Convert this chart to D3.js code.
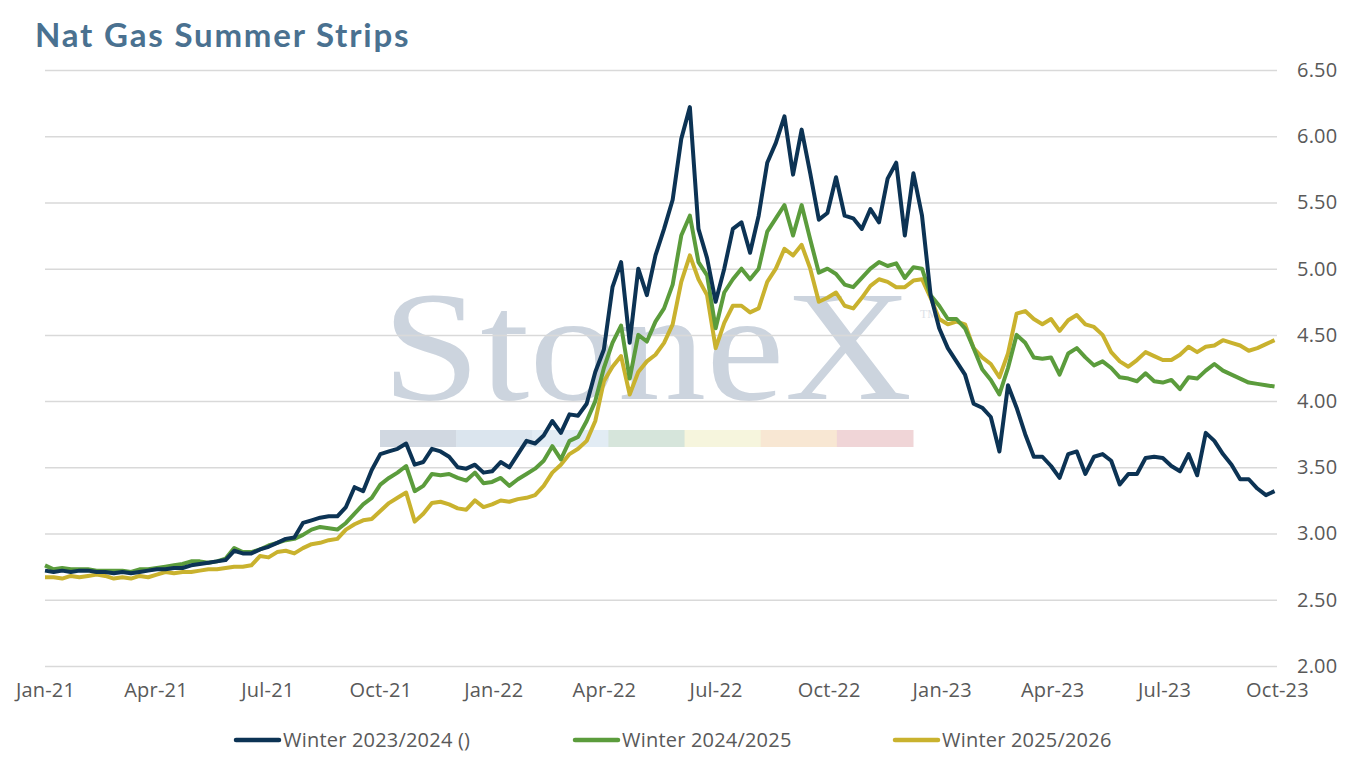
<!DOCTYPE html>
<html>
<head>
<meta charset="utf-8">
<script src="https://cdn.jsdelivr.net/npm/d3@7"></script>
<style>
  body { margin: 0; background: #fff; }
  text { font-family: "Open Sans", Lato, sans-serif; }
</style>
</head>
<body>
<svg id="chart" width="1356" height="759"></svg>
<script>
// weekly closes, first week starts 1 Jan 2021
const startDate = new Date(2021, 0, 1);

const winter2324 = [
  2.72, 2.71, 2.72, 2.71, 2.72, 2.72, 2.71, 2.71, 2.70, 2.71, 2.70, 2.71, 2.72, 2.73,
  2.73, 2.74, 2.74, 2.76, 2.77, 2.78, 2.79, 2.80, 2.87, 2.85, 2.85, 2.88, 2.90, 2.93,
  2.96, 2.97, 3.08, 3.10, 3.12, 3.13, 3.13, 3.20, 3.35, 3.32, 3.48, 3.60, 3.62, 3.64,
  3.68, 3.52, 3.54, 3.64, 3.62, 3.58, 3.50, 3.49, 3.52, 3.46, 3.47, 3.54, 3.50, 3.60,
  3.70, 3.68, 3.74, 3.85, 3.76, 3.90, 3.89, 3.98, 4.22, 4.39, 4.86, 5.05, 4.44, 5.00,
  4.80, 5.10, 5.30, 5.52, 5.98, 6.22, 5.30, 5.08, 4.75, 5.00, 5.30, 5.35, 5.12, 5.40,
  5.80, 5.95, 6.15, 5.71, 6.05, 5.72, 5.37, 5.42, 5.69, 5.40, 5.38, 5.30, 5.45, 5.35,
  5.68, 5.80, 5.25, 5.72, 5.40, 4.80, 4.55, 4.40, 4.30, 4.20, 3.98, 3.95, 3.88, 3.62,
  4.12, 3.95, 3.75, 3.58, 3.58, 3.51, 3.42, 3.60, 3.62, 3.45, 3.58, 3.60, 3.55, 3.37,
  3.45, 3.45, 3.57, 3.58, 3.57, 3.51, 3.47, 3.60, 3.44, 3.76, 3.70, 3.60, 3.52, 3.41,
  3.41, 3.34, 3.29, 3.32
];

const winter2425 = [
  2.76, 2.73, 2.74, 2.73, 2.73, 2.73, 2.72, 2.72, 2.72, 2.72, 2.71, 2.73, 2.73, 2.74,
  2.75, 2.76, 2.77, 2.79, 2.79, 2.78, 2.79, 2.81, 2.89, 2.86, 2.86, 2.88, 2.91, 2.93,
  2.95, 2.96, 2.99, 3.03, 3.05, 3.04, 3.03, 3.08, 3.15, 3.22, 3.27, 3.37, 3.42, 3.46,
  3.51, 3.32, 3.36, 3.45, 3.44, 3.45, 3.42, 3.40, 3.46, 3.38, 3.39, 3.42, 3.36, 3.41,
  3.45, 3.49, 3.55, 3.66, 3.56, 3.70, 3.73, 3.85, 4.00, 4.25, 4.44, 4.57, 4.17, 4.50,
  4.45, 4.60, 4.70, 4.88, 5.25, 5.40, 5.05, 4.95, 4.55, 4.82, 4.92, 5.00, 4.92, 5.00,
  5.28, 5.38, 5.48, 5.25, 5.48, 5.22, 4.97, 5.00, 4.96, 4.88, 4.86, 4.93, 5.00, 5.05,
  5.02, 5.04, 4.93, 5.01, 5.00, 4.80, 4.72, 4.62, 4.62, 4.55, 4.40, 4.24, 4.16, 4.05,
  4.25, 4.50, 4.44, 4.33, 4.32, 4.33, 4.20, 4.36, 4.40, 4.33, 4.27, 4.30, 4.25, 4.18,
  4.17, 4.15, 4.21, 4.15, 4.14, 4.16, 4.09, 4.18, 4.17, 4.23, 4.28, 4.23, 4.20, 4.17,
  4.14, 4.13, 4.12, 4.11
];

const winter2526 = [
  2.67, 2.67, 2.66, 2.68, 2.67, 2.68, 2.69, 2.68, 2.66, 2.67, 2.66, 2.68, 2.67, 2.69,
  2.71, 2.70, 2.71, 2.71, 2.72, 2.73, 2.73, 2.74, 2.75, 2.75, 2.76, 2.83, 2.82, 2.86,
  2.87, 2.85, 2.89, 2.92, 2.93, 2.95, 2.96, 3.03, 3.07, 3.10, 3.11, 3.17, 3.23, 3.27,
  3.31, 3.09, 3.15, 3.23, 3.24, 3.22, 3.19, 3.18, 3.25, 3.20, 3.22, 3.25, 3.24, 3.26,
  3.27, 3.29, 3.36, 3.46, 3.52, 3.60, 3.64, 3.70, 3.85, 4.15, 4.26, 4.34, 4.05, 4.22,
  4.30, 4.35, 4.44, 4.58, 4.90, 5.10, 4.92, 4.80, 4.40, 4.59, 4.72, 4.72, 4.67, 4.70,
  4.90, 5.00, 5.15, 5.10, 5.18, 5.00, 4.75, 4.78, 4.82, 4.72, 4.70, 4.78, 4.87, 4.92,
  4.90, 4.86, 4.86, 4.91, 4.92, 4.78, 4.62, 4.58, 4.60, 4.58, 4.40, 4.33, 4.28, 4.18,
  4.36, 4.66, 4.68, 4.62, 4.58, 4.62, 4.53, 4.61, 4.65, 4.58, 4.56, 4.50, 4.37, 4.30,
  4.26, 4.31, 4.37, 4.34, 4.31, 4.31, 4.35, 4.41, 4.37, 4.41, 4.42, 4.46, 4.44, 4.42,
  4.38, 4.40, 4.43, 4.46
];

const seriesNames = ['Winter 2023/2024 ()', 'Winter 2024/2025', 'Winter 2025/2026'];
const seriesColors = ['#0c3354', '#5b9c3c', '#c9b22e'];
const yTicks = [2.0, 2.5, 3.0, 3.5, 4.0, 4.5, 5.0, 5.5, 6.0, 6.5];
const xTickLabels = ['Jan-21', 'Apr-21', 'Jul-21', 'Oct-21', 'Jan-22', 'Apr-22',
  'Jul-22', 'Oct-22', 'Jan-23', 'Apr-23', 'Jul-23', 'Oct-23'];
const xTickDates = [
  new Date(2021, 0, 1), new Date(2021, 3, 1), new Date(2021, 6, 1), new Date(2021, 9, 1),
  new Date(2022, 0, 1), new Date(2022, 3, 1), new Date(2022, 6, 1), new Date(2022, 9, 1),
  new Date(2023, 0, 1), new Date(2023, 3, 1), new Date(2023, 6, 1), new Date(2023, 9, 1)
];
const stripColors = ['#d1d8e1', '#dbe5ee', '#e2ecf4', '#d6e5db', '#f6f5dd', '#f8e7d3', '#f0d5d7'];

const svg = d3.select('#chart');

const x = d3.scaleTime()
  .domain([xTickDates[0], xTickDates[xTickDates.length - 1]])
  .range([45, 1277]);
const y = d3.scaleLinear().domain([2, 6.5]).range([666, 70]);

const dates = winter2324.map((d, i) => d3.timeDay.offset(startDate, i * 7));

const labelFont = g => g
  .style('font-family', '"Open Sans", sans-serif')
  .style('font-size', '20px')
  .style('letter-spacing', '0.2px')
  .style('fill', '#595959');

// title
svg.append('text')
  .attr('x', 35).attr('y', 47)
  .text('Nat Gas Summer Strips')
  .style('font-family', 'Lato, sans-serif')
  .style('font-size', '33px')
  .style('font-weight', 'bold')
  .style('letter-spacing', '1.8px')
  .style('fill', '#4a7190');

// watermark
const wm = svg.append('g');
wm.append('text')
  .attr('x', 382).attr('y', 399)
  .attr('textLength', 530)
  .attr('lengthAdjust', 'spacingAndGlyphs')
  .text('StoneX')
  .style('font-family', '"Liberation Serif", serif')
  .style('font-size', '156px')
  .style('fill', '#ccd4de');
wm.append('text')
  .attr('x', 920).attr('y', 318)
  .text('TM')
  .style('font-family', '"Liberation Serif", serif')
  .style('font-size', '12px')
  .style('fill', '#dde2e8');
const stripX = d3.scaleBand().domain(d3.range(stripColors.length)).range([380, 913]);
wm.selectAll('rect')
  .data(stripColors)
  .enter().append('rect')
  .attr('x', (d, i) => stripX(i))
  .attr('width', stripX.bandwidth() + 0.5)
  .attr('y', 430).attr('height', 17)
  .style('fill', d => d);

// gridlines + right axis labels
const yAxis = d3.axisRight(y)
  .tickValues(yTicks)
  .tickSize(-(1277 - 45))
  .tickPadding(20)
  .tickFormat(d3.format('.2f'));
svg.append('g')
  .attr('transform', 'translate(1277,0)')
  .call(yAxis)
  .call(g => g.select('.domain').remove())
  .call(g => g.selectAll('line').style('stroke', '#d9d9d9').style('stroke-width', 1.5))
  .call(g => g.selectAll('text').call(labelFont));

// x labels
const xAxis = d3.axisBottom(x)
  .tickValues(xTickDates)
  .tickSize(0)
  .tickPadding(17)
  .tickFormat((d, i) => xTickLabels[i]);
svg.append('g')
  .attr('transform', 'translate(0,666)')
  .call(xAxis)
  .call(g => g.select('.domain').remove())
  .call(g => g.selectAll('text').call(labelFont));

// lines
const allSeries = [winter2324, winter2425, winter2526];
const line = d3.line()
  .x((d, i) => x(dates[i]))
  .y(d => y(d));

// draw back to front: gold, green, navy
[2, 1, 0].forEach(k => {
  svg.append('path')
    .datum(allSeries[k])
    .attr('d', line)
    .style('fill', 'none')
    .style('stroke', seriesColors[k])
    .style('stroke-width', 4)
    .style('stroke-linejoin', 'round');
});

// legend
const legendX = [236, 575, 895];
const legend = svg.selectAll('.legend')
  .data(seriesNames)
  .enter().append('g')
  .attr('class', 'legend')
  .attr('transform', (d, i) => `translate(${legendX[i]},740)`);
legend.append('line')
  .attr('x1', 0).attr('x2', 43)
  .style('stroke', (d, i) => seriesColors[i])
  .style('stroke-width', 4.5)
  .style('stroke-linecap', 'round');
legend.append('text')
  .attr('x', 47).attr('dy', '0.35em')
  .text(d => d)
  .call(labelFont);
</script>
</body>
</html>
